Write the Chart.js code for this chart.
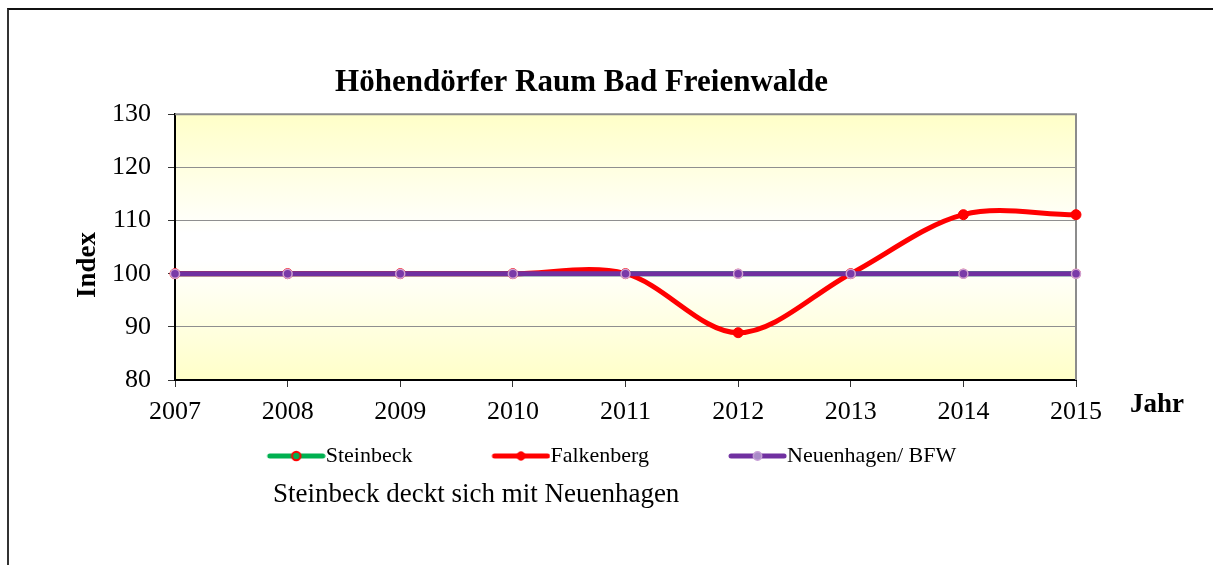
<!DOCTYPE html>
<html>
<head>
<meta charset="utf-8">
<title>Höhendörfer Raum Bad Freienwalde</title>
<script src="https://cdn.jsdelivr.net/npm/chart.js@4.4.1/dist/chart.umd.min.js"></script>
<style>
  html, body { margin: 0; padding: 0; background: #fff; overflow: hidden; }
  #wrap { position: relative; width: 1213px; height: 565px; }
  #frame {
    position: absolute; left: 7px; top: 8px; width: 1300px; height: 700px;
    border-top: 2px solid #111; border-left: 2px solid #333;
    box-sizing: border-box; pointer-events: none;
  }
  canvas { display: block; }
</style>
</head>
<body>
<div id="wrap">
  <canvas id="chart" width="1213" height="565"></canvas>
  <div id="frame"></div>
</div>
<script>
// Index values per year
const years      = ['2007', '2008', '2009', '2010', '2011', '2012', '2013', '2014', '2015'];
const steinbeck  = [100, 100, 100, 100, 100, 100, 100, 100, 100];
const falkenberg = [100, 100, 100, 100, 100, 88.9, 100, 111.1, 111.1];
const neuenhagen = [100, 100, 100, 100, 100, 100, 100, 100, 100];
const yTicks     = [80, 90, 100, 110, 120, 130];

const titleText = 'Höhendörfer Raum Bad Freienwalde';
const yTitle    = 'Index';
const xTitle    = 'Jahr';
const noteText  = 'Steinbeck deckt sich mit Neuenhagen';

const SERIF = "'Liberation Serif', 'Times New Roman', serif";

// Legend symbol: a short thick line with a round marker in the middle
function legendSymbol(lineColor, markerFill, markerStroke, markerLine) {
  const c = document.createElement('canvas');
  c.width = 130; c.height = 16;
  const g = c.getContext('2d');
  const x0 = 74, x1 = 127, cy = 8;
  g.lineCap = 'round';
  g.strokeStyle = lineColor;
  g.lineWidth = 5;
  g.beginPath(); g.moveTo(x0, cy); g.lineTo(x1, cy); g.stroke();
  g.beginPath(); g.arc((x0 + x1) / 2, cy, 4.2, 0, Math.PI * 2);
  g.fillStyle = markerFill; g.fill();
  g.lineWidth = markerLine; g.strokeStyle = markerStroke; g.stroke();
  return c;
}

const symbols = [
  legendSymbol('#00B050', '#00B050', '#FF0000', 2),
  legendSymbol('#FF0000', '#FF0000', '#FF0000', 1),
  legendSymbol('#7030A0', '#A98AC8', '#C8A0D8', 1.5)
];

// Plot area: yellow-white-yellow gradient, grey top/right frame
const plotBackground = {
  id: 'plotBackground',
  beforeDraw(chart) {
    const { ctx, chartArea: a } = chart;
    const grad = ctx.createLinearGradient(0, a.top, 0, a.bottom);
    grad.addColorStop(0, '#FFFFC8');
    grad.addColorStop(0.45, '#FFFFFF');
    grad.addColorStop(0.55, '#FFFFFF');
    grad.addColorStop(1, '#FFFFC8');
    ctx.save();
    ctx.fillStyle = grad;
    ctx.fillRect(a.left, a.top, a.right - a.left, a.bottom - a.top);
    ctx.restore();
  },
  beforeDatasetsDraw(chart) {
    const { ctx, chartArea: a } = chart;
    ctx.save();
    ctx.strokeStyle = '#8C8C8C';
    ctx.lineWidth = 2;
    ctx.beginPath();
    ctx.moveTo(a.left, a.top);
    ctx.lineTo(a.right, a.top);
    ctx.lineTo(a.right, a.bottom);
    ctx.stroke();
    ctx.restore();
  }
};

// Axis names and the note under the legend
const extraText = {
  id: 'extraText',
  afterDraw(chart) {
    const { ctx, chartArea: a } = chart;
    ctx.save();
    ctx.fillStyle = '#000';
    ctx.textBaseline = 'middle';
    ctx.textAlign = 'left';
    ctx.font = 'bold 27px ' + SERIF;
    ctx.fillText(xTitle, a.right + 54, a.bottom + 25);
    ctx.font = '27px ' + SERIF;
    ctx.fillText(noteText, 273, 495);
    // vertical axis name, read bottom to top
    ctx.translate(88, (a.top + a.bottom) / 2 + 18);
    ctx.rotate(-Math.PI / 2);
    ctx.textAlign = 'center';
    ctx.font = 'bold 27px ' + SERIF;
    ctx.fillText(yTitle, 0, 0);
    ctx.restore();
  }
};

new Chart(document.getElementById('chart'), {
  type: 'line',
  data: {
    labels: years,
    datasets: [
      {
        label: 'Steinbeck',
        data: steinbeck,
        order: 2,
        borderColor: '#00B050',
        borderWidth: 5,
        tension: 0,
        pointRadius: 4,
        pointBackgroundColor: '#00B050',
        pointBorderColor: '#FF0000',
        pointBorderWidth: 2,
        clip: false
      },
      {
        label: 'Falkenberg',
        data: falkenberg,
        order: 1,
        borderColor: '#FF0000',
        borderWidth: 5,
        tension: 0.33,
        pointRadius: 5,
        pointBackgroundColor: '#FF0000',
        pointBorderColor: '#FF0000',
        pointBorderWidth: 1,
        clip: false
      },
      {
        label: 'Neuenhagen/ BFW',
        data: neuenhagen,
        order: 0,
        borderColor: '#7030A0',
        borderWidth: 5,
        tension: 0,
        pointRadius: 4.5,
        pointBackgroundColor: '#7A3AA8',
        pointBorderColor: '#CFA2D2',
        pointBorderWidth: 1.5,
        clip: false
      }
    ]
  },
  options: {
    responsive: false,
    devicePixelRatio: 1,
    animation: false,
    layout: { padding: { left: 0, right: 50, top: 0, bottom: 88 } },
    elements: { point: { pointStyle: 'circle' } },
    scales: {
      x: {
        type: 'category',
        offset: false,
        grid: { drawOnChartArea: false, tickLength: 7, tickColor: '#333', lineWidth: 1 },
        border: { display: true, color: '#000', width: 2 },
        ticks: { color: '#000', padding: 10, maxRotation: 0, autoSkip: false,
                 font: { family: SERIF, size: 26 } },
        afterFit(scale) { scale.height = 46; }
      },
      y: {
        type: 'linear',
        min: yTicks[0],
        max: yTicks[yTicks.length - 1],
        afterBuildTicks(scale) { scale.ticks = yTicks.map(v => ({ value: v })); },
        grid: {
          color: ctx => (ctx.tick && (ctx.tick.value === yTicks[0] || ctx.tick.value === yTicks[yTicks.length - 1])) ? 'rgba(0,0,0,0)' : '#8F8F8F',
          lineWidth: 1,
          tickLength: 7,
          tickColor: '#333'
        },
        border: { display: true, color: '#000', width: 2 },
        ticks: { color: '#000', padding: 17, font: { family: SERIF, size: 26 } },
        title: { display: false },
        afterFit(scale) { scale.width = 175; }
      },
      yRight: {
        type: 'linear',
        position: 'right',
        display: true,
        grid: { display: false },
        border: { display: false },
        ticks: { display: false },
        afterFit(scale) { scale.width = 87; }
      }
    },
    plugins: {
      title: {
        display: true,
        text: titleText,
        color: '#000',
        padding: { top: 64, bottom: 13 },
        font: { family: SERIF, size: 31, weight: 'bold' }
      },
      legend: {
        display: true,
        position: 'bottom',
        align: 'center',
        labels: {
          color: '#000',
          font: { family: SERIF, size: 22 },
          padding: 19,
          usePointStyle: true,
          pointStyleWidth: 108,
          sort: (a, b) => a.datasetIndex - b.datasetIndex,
          generateLabels(chart) {
            const items = Chart.defaults.plugins.legend.labels.generateLabels(chart);
            items.forEach(it => { it.pointStyle = symbols[it.datasetIndex]; it.lineWidth = 0; });
            return items;
          }
        }
      },
      tooltip: { enabled: false }
    }
  },
  plugins: [plotBackground, extraText]
});
</script>
</body>
</html>
